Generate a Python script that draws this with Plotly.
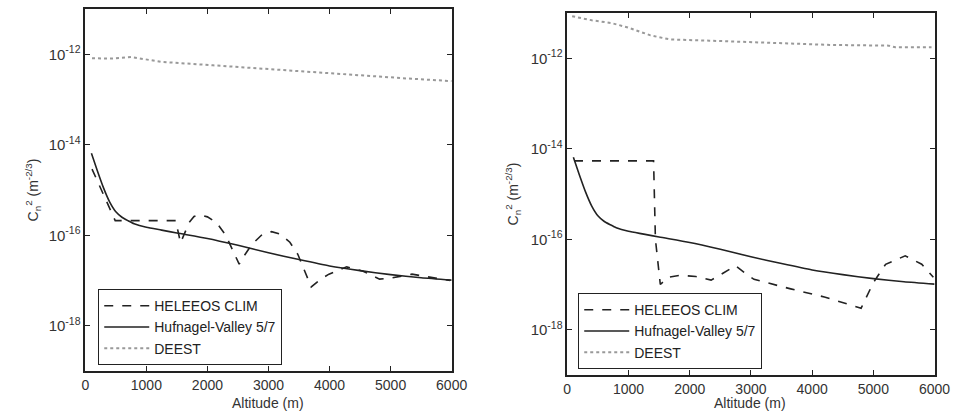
import plotly.graph_objects as go

# ---------------- data ----------------
alt_hv = [100, 200, 300, 400, 500, 600, 700, 800, 1000, 1250, 1500, 2000,
          2500, 3000, 3500, 4000, 4500, 5000, 5500, 6000]
hv57 = [6.5e-15, 2.6e-15, 1.1e-15, 5.4e-16, 3.3e-16, 2.5e-16, 2.1e-16, 1.8e-16,
        1.5e-16, 1.3e-16, 1.12e-16, 8.5e-17, 6.0e-17, 4.1e-17, 2.9e-17, 2.1e-17,
        1.65e-17, 1.35e-17, 1.15e-17, 1.02e-17]

alt_hel_l = [110, 300, 490, 1000, 1480, 1560, 1700, 1780, 1880, 2000, 2150, 2300,
             2420, 2520, 2600, 2730, 2900, 3050, 3200, 3350, 3480, 3600, 3700,
             3856, 3990, 4280, 4550, 4820, 5030, 5350, 5620, 5970]
hel_l = [2.9e-15, 7.8e-16, 2.1e-16, 2.1e-16, 2.1e-16, 6.8e-17, 1.9e-16, 2.6e-16,
         2.8e-16, 2.55e-16, 1.9e-16, 1.0e-16, 4.5e-17, 2.3e-17, 3.5e-17, 6.3e-17,
         1.05e-16, 1.2e-16, 1.05e-16, 7.0e-17, 3.8e-17, 1.6e-17, 7.2e-18,
         1.07e-17, 1.38e-17, 2.0e-17, 1.6e-17, 1.07e-17, 1.15e-17, 1.38e-17,
         1.2e-17, 1.0e-17]

alt_deest_l = [110, 400, 750, 1235, 2090, 3160, 4230, 4765, 5300, 5890, 6000]
deest_l = [8.2e-13, 8.0e-13, 8.7e-13, 6.8e-13, 5.7e-13, 4.5e-13, 3.65e-13,
           3.2e-13, 2.9e-13, 2.6e-13, 2.55e-13]

alt_hel_r = [110, 1410, 1440, 1520, 1650, 1850, 2100, 2350, 2550, 2750, 2900, 3050,
             3650, 4200, 4800, 5000, 5200, 5520, 5790, 5980]
hel_r = [5.4e-15, 5.4e-15, 1.0e-16, 1.0e-17, 1.45e-17, 1.6e-17, 1.5e-17, 1.25e-17,
         1.8e-17, 2.6e-17, 1.8e-17, 1.3e-17, 8.0e-18, 5.3e-18, 3.0e-18, 1.1e-17,
         2.8e-17, 4.3e-17, 2.8e-17, 1.45e-17]

alt_deest_r = [80, 400, 720, 990, 1360, 1680, 2320, 3650, 4290, 5250, 5360, 5950]
deest_r = [8.5e-12, 6.9e-12, 6.0e-12, 4.8e-12, 3.2e-12, 2.6e-12, 2.45e-12,
           2.15e-12, 1.97e-12, 1.9e-12, 1.75e-12, 1.75e-12]

x_ticks = [0, 1000, 2000, 3000, 4000, 5000, 6000]
y_tickvals = [1e-18, 1e-16, 1e-14, 1e-12]
y_ticktext = ["10<sup>-18</sup>", "10<sup>-16</sup>", "10<sup>-14</sup>", "10<sup>-12</sup>"]
names = ["HELEEOS CLIM", "Hufnagel-Valley 5/7", "DEEST"]

# ---------------- figure ----------------
FONT = "Liberation Sans, Arial, sans-serif"
W, H = 979, 418
fig = go.Figure()

def add_panel(xa, ya, leg, hel_x, hel_y, de_x, de_y):
    fig.add_trace(go.Scatter(x=hel_x, y=hel_y, mode="lines", name=names[0],
                             line=dict(color="#222", width=1.6, dash="dash"),
                             xaxis=xa, yaxis=ya, legend=leg))
    fig.add_trace(go.Scatter(x=alt_hv, y=hv57, mode="lines", name=names[1],
                             line=dict(color="#222", width=1.6, shape="spline", smoothing=0.6),
                             xaxis=xa, yaxis=ya, legend=leg))
    fig.add_trace(go.Scatter(x=de_x, y=de_y, mode="lines", name=names[2],
                             line=dict(color="#999", width=2, dash="dot"),
                             xaxis=xa, yaxis=ya, legend=leg))

add_panel("x", "y", "legend", alt_hel_l, hel_l, alt_deest_l, deest_l)
add_panel("x2", "y2", "legend2", alt_hel_r, hel_r, alt_deest_r, deest_r)

def px_x(p):
    return p / W

def px_y(p):
    return 1 - p / H

xcommon = dict(range=[0, 6000], tickvals=x_ticks, ticks="inside", ticklen=5,
               tickcolor="#222", showline=True, linecolor="#222", linewidth=1.5,
               mirror="ticks", showgrid=False, zeroline=False,
               tickfont=dict(family=FONT, size=14, color="#333"))
ycommon = dict(type="log", range=[-19, -11], tickvals=y_tickvals, ticktext=y_ticktext,
               ticks="inside", ticklen=5, tickcolor="#222", showline=True,
               linecolor="#222", linewidth=1.5, mirror="ticks", showgrid=False,
               zeroline=False, tickfont=dict(family=FONT, size=15, color="#333"))

legcommon = dict(bgcolor="white", bordercolor="#222", borderwidth=1.2,
                 font=dict(family=FONT, size=14, color="#222"),
                 xanchor="left", yanchor="top", tracegroupgap=0, itemwidth=45)

fig.update_layout(
    width=W, height=H, margin=dict(l=0, r=0, t=0, b=0),
    paper_bgcolor="white", plot_bgcolor="white",
    xaxis=dict(domain=[px_x(83), px_x(457)], anchor="y", **xcommon),
    yaxis=dict(domain=[px_y(371), px_y(9)], anchor="x", **ycommon),
    xaxis2=dict(domain=[px_x(575), px_x(950)], anchor="y2", **xcommon),
    yaxis2=dict(domain=[px_y(375), px_y(13)], anchor="x2", **ycommon),
    legend=dict(x=px_x(96), y=px_y(289), **legcommon),
    legend2=dict(x=px_x(586), y=px_y(293), **legcommon),
    showlegend=True,
)

ytitle = "C<sub>n</sub><sup>2</sup> (m<sup>-2/3</sup>)"
for xc, yc in [(30, 190), (520, 194)]:
    fig.add_annotation(text=ytitle, x=px_x(xc), y=px_y(yc), xref="paper", yref="paper",
                       textangle=-90, showarrow=False, xanchor="center", yanchor="middle",
                       font=dict(family=FONT, size=14, color="#333"))
for xc in [270, 762]:
    fig.add_annotation(text="Altitude (m)", x=px_x(xc), y=px_y(403), xref="paper",
                       yref="paper", showarrow=False, xanchor="center", yanchor="middle",
                       font=dict(family=FONT, size=14, color="#333"))

fig.write_html("out.html")
